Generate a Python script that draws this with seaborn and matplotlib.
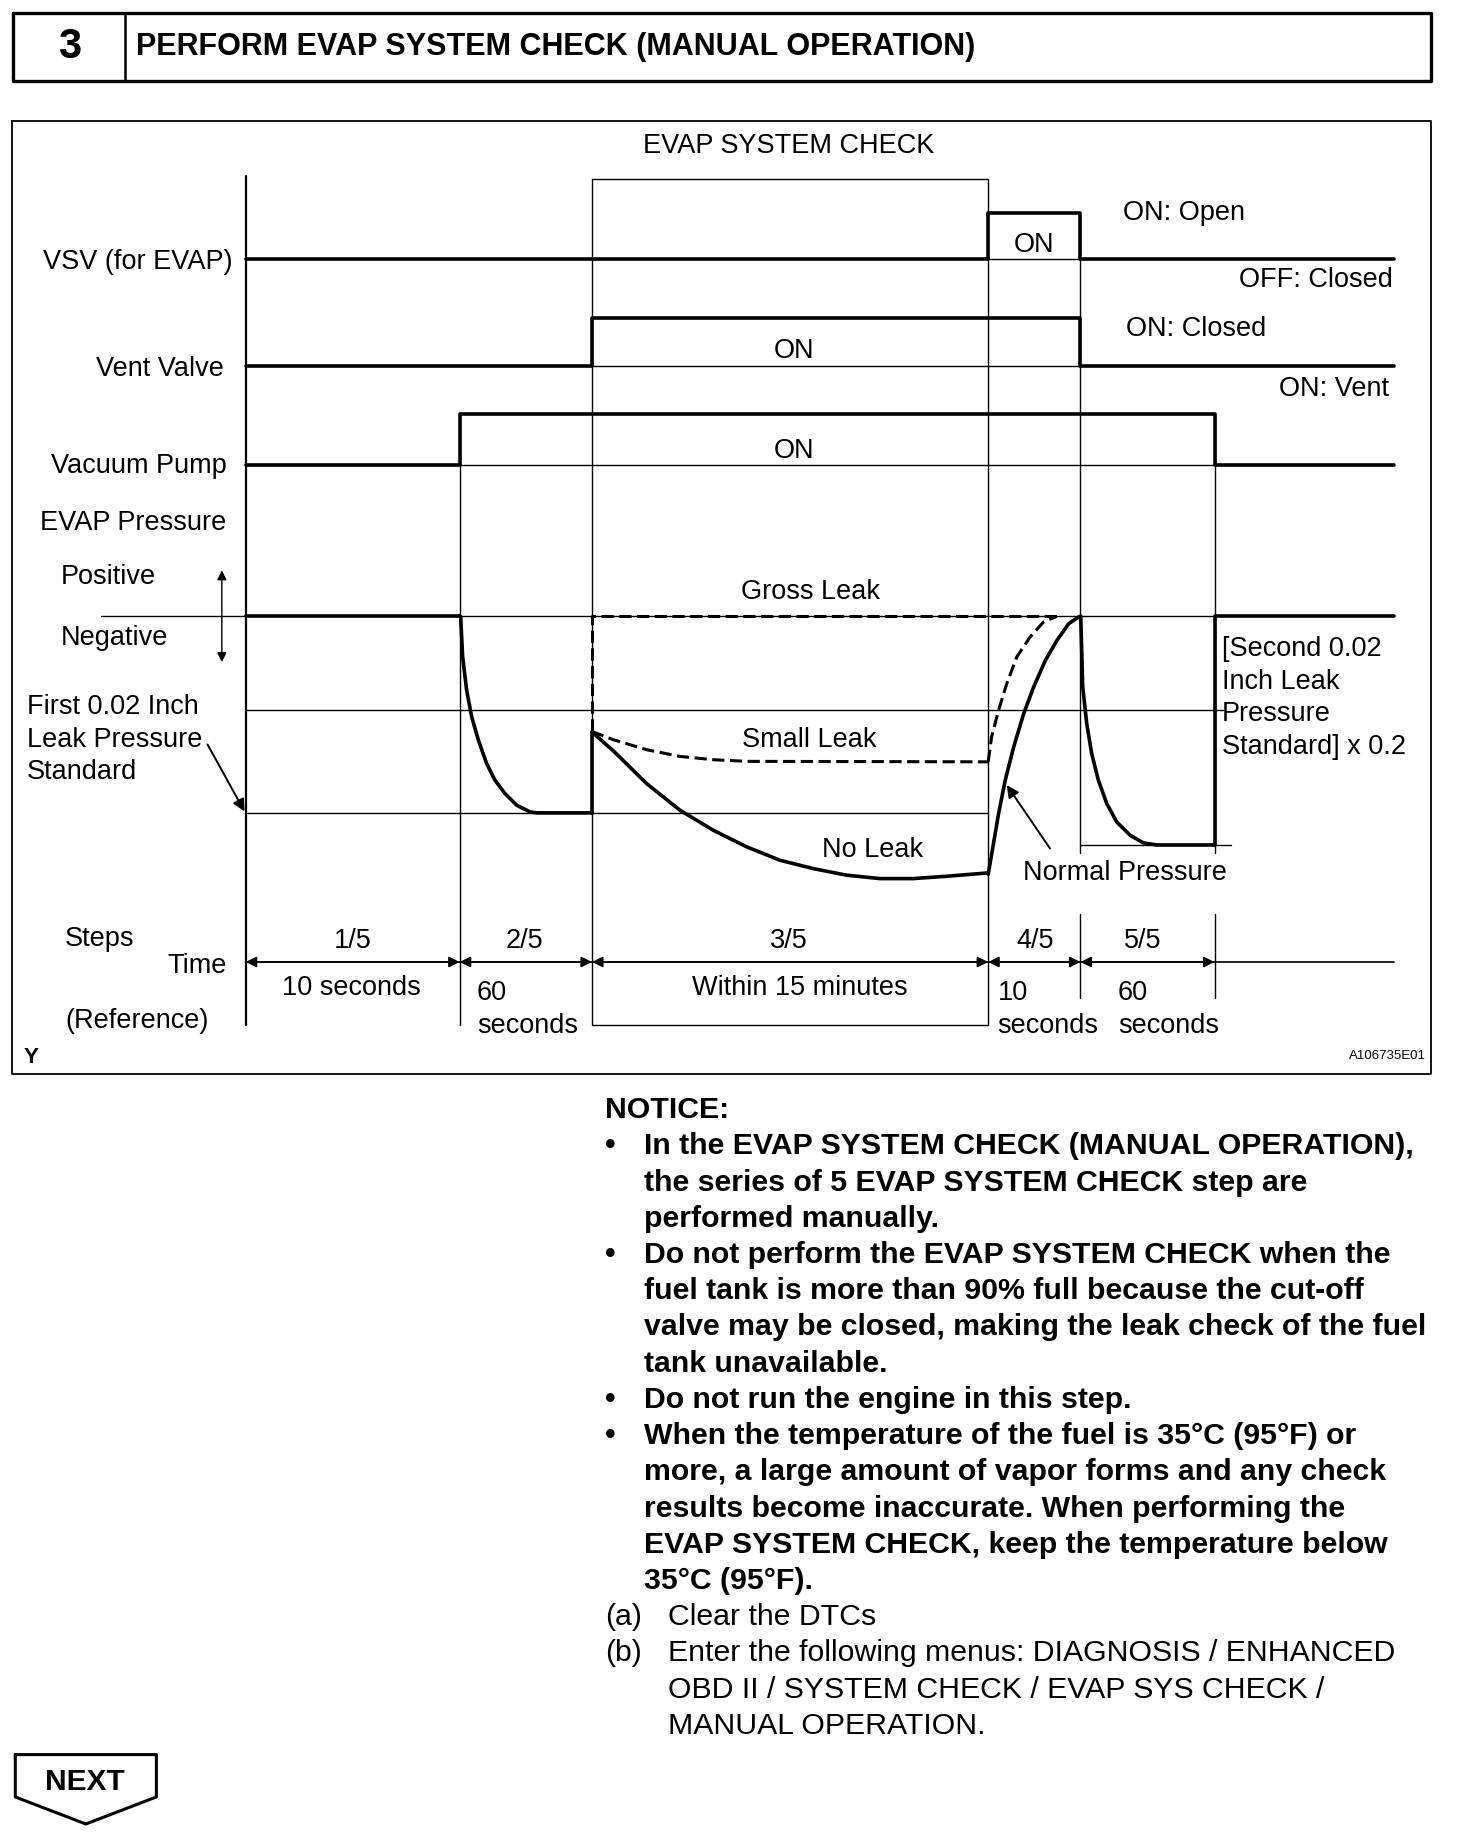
import numpy as np
import pandas as pd
import matplotlib
matplotlib.use("Agg")
import matplotlib.pyplot as plt
from matplotlib import font_manager
import seaborn as sns

# page coordinates (1252 x 1568 view)
PAGE_W, PAGE_H = 1252, 1568

# ---- timing diagram data ----
STEP_X = [209, 391, 503.5, 840.5, 919, 1033]       # step boundaries
STEP_LABELS = ["1/5", "2/5", "3/5", "4/5", "5/5"]
STEP_LABEL_X = [300, 446, 671, 880, 972]
RIGHT_END = 1186

# switch signals: (low level, high level)
VSV_LEVELS = (220, 181)
VENT_LEVELS = (311, 270)
PUMP_LEVELS = (395, 352)

# pressure levels
P_NORMAL = 524
P_STD = 604
P_FIRST = 691
P_SECOND = 718.5

# curves
decay1_x = [391, 391.8, 393.5, 396.9, 401.2, 406.9, 413.9, 421.0, 429.5, 439.5, 450.8, 456.5, 503.5]
decay1_y = [524, 524.5, 558.5, 586.9, 609.6, 629.4, 649.3, 663.4, 674.8, 684.7, 690.4, 691.2, 691.2]

noleak_x = [503.5, 521.7, 550.0, 578.4, 606.7, 635.1, 663.4, 691.8, 720.1, 748.5, 776.8, 805.2, 839.8]
noleak_y = [622.5, 638.5, 666.3, 689.0, 706.0, 720.1, 731.5, 738.6, 744.2, 747.1, 747.1, 745.1, 742.3]

rise_x = [840.5, 845.0, 849.3, 855.0, 862.2, 870.7, 879.2, 889.2, 899.1, 909.0, 917.5, 919.2]
rise_y = [743.5, 717.3, 692.0, 663.4, 635.1, 606.8, 584.1, 561.4, 544.4, 530.3, 524.6, 524.0]

small_x = [503.5, 521.7, 550.0, 578.4, 606.7, 635.0, 840.5]
small_y = [622.0, 629.0, 637.5, 643.2, 646.0, 647.4, 647.8]

small_rise_x = [840.5, 843.4, 849.3, 856.3, 864.8, 876.2, 887.5, 898.9]
small_rise_y = [647.8, 626.6, 604.0, 581.3, 558.6, 541.6, 528.9, 524.1]

decay2_x = [919.2, 920.9, 924.3, 928.5, 934.2, 941.3, 949.8, 961.2, 972.5, 983.8, 1033]
decay2_y = [524.0, 584.0, 615.2, 640.7, 663.4, 683.2, 698.9, 710.2, 716.7, 718.5, 718.5]

TITLE = "PERFORM EVAP SYSTEM CHECK (MANUAL OPERATION)"

NOTICE = [
    ["In the EVAP SYSTEM CHECK (MANUAL OPERATION),",
     "the series of 5 EVAP SYSTEM CHECK step are",
     "performed manually."],
    ["Do not perform the EVAP SYSTEM CHECK when the",
     "fuel tank is more than 90% full because the cut-off",
     "valve may be closed, making the leak check of the fuel",
     "tank unavailable."],
    ["Do not run the engine in this step."],
    ["When the temperature of the fuel is 35°C (95°F) or",
     "more, a large amount of vapor forms and any check",
     "results become inaccurate. When performing the",
     "EVAP SYSTEM CHECK, keep the temperature below",
     "35°C (95°F)."],
]
STEPS_AB = [
    ("(a)", ["Clear the DTCs"]),
    ("(b)", ["Enter the following menus: DIAGNOSIS / ENHANCED",
             "OBD II / SYSTEM CHECK / EVAP SYS CHECK /",
             "MANUAL OPERATION."]),
]

sns.set_theme(style="white")
plt.rcParams['font.family'] = ['Liberation Sans', 'DejaVu Sans']

try:
    font_manager.findfont('Liberation Sans Narrow', fallback_to_default=False)
    TITLE_FONT = ['Liberation Sans Narrow', 'Liberation Sans']
except Exception:
    TITLE_FONT = ['Liberation Sans', 'DejaVu Sans']

fig = plt.figure(figsize=(14.72, 18.44), dpi=100)
ax = fig.add_axes([0, 0, 1, 1])
ax.set_xlim(0, PAGE_W)
ax.set_ylim(PAGE_H, 0)
ax.axis('off')

K = 'black'
THICK, MID, THIN = 2.6, 1.6, 1.0
FS = 19.5
DY = 2.5


def line(xs, ys, lw=THIN, **kw):
    sns.lineplot(x=xs, y=ys, sort=False, estimator=None, ax=ax, color=K, lw=lw, **kw)


def txt(s, x, y, ha='center', fs=FS, dy=DY, **kw):
    return ax.text(x, y + dy, s, ha=ha, va='center', fontsize=fs, color=K, **kw)


# ---- header box ----
line([11, 1217, 1217, 11, 11], [11.3, 11.3, 69, 69, 11.3], lw=2.4)
line([106, 106], [11.3, 69], lw=1.8)
txt("3", 59, 40, fs=30, fontweight='bold', dy=0)
title = txt(TITLE, 116, 40, ha='left', fs=22, fontweight='bold', dy=0, family=TITLE_FONT)
# fit the title to the width it has in the reference (116 -> 830)
fig.canvas.draw()
bb = title.get_window_extent()
w = bb.width / fig.dpi / 14.72 * PAGE_W
title.set_fontsize(title.get_fontsize() * (830 - 116) / w)

# ---- diagram frame ----
line([10, 1217, 1217, 10, 10], [103, 103, 913, 913, 103], lw=1.3)
txt("EVAP SYSTEM CHECK", 670.5, 122)

x0, x1, x2, x3, x4, x5 = STEP_X
# verticals
line([x0, x0], [150, 872], lw=MID)
line([x1, x1], [PUMP_LEVELS[1], 872])
line([x2, x3, x3, x2, x2], [152, 152, 872, 872, 152])
line([x4, x4], [VSV_LEVELS[1], 725])
line([x5, x5], [PUMP_LEVELS[1], 725])
line([x4, x4], [777, 849])
line([x5, x5], [777, 849])

# VSV
line([x0, x3, x3, x4, x4, RIGHT_END],
     [VSV_LEVELS[0], VSV_LEVELS[0], VSV_LEVELS[1], VSV_LEVELS[1], VSV_LEVELS[0], VSV_LEVELS[0]], lw=THICK)
line([x3, x4], [VSV_LEVELS[0], VSV_LEVELS[0]])
# vent valve
line([x0, x2, x2, x4, x4, RIGHT_END],
     [VENT_LEVELS[0], VENT_LEVELS[0], VENT_LEVELS[1], VENT_LEVELS[1], VENT_LEVELS[0], VENT_LEVELS[0]], lw=THICK)
line([x2, x4], [VENT_LEVELS[0], VENT_LEVELS[0]])
# vacuum pump
line([x0, x1, x1, x5, x5, RIGHT_END],
     [PUMP_LEVELS[0], PUMP_LEVELS[0], PUMP_LEVELS[1], PUMP_LEVELS[1], PUMP_LEVELS[0], PUMP_LEVELS[0]], lw=THICK)
line([x1, x5], [PUMP_LEVELS[0], PUMP_LEVELS[0]])

# pressure reference lines
line([86, x5], [P_NORMAL, P_NORMAL])
line([x0, 1040], [P_STD, P_STD])
line([x0, x3], [P_FIRST, P_FIRST])
line([x4, 1047], [P_SECOND, P_SECOND])

# pressure curves
line([x0, x1], [P_NORMAL, P_NORMAL], lw=THICK)
line(decay1_x, decay1_y, lw=THICK)
line([x2, x2], [P_FIRST, noleak_y[0]], lw=THICK)
line(noleak_x, noleak_y, lw=THICK)
line(rise_x, rise_y, lw=THICK)
line(decay2_x, decay2_y, lw=THICK)
line([x5, x5, RIGHT_END], [P_SECOND, P_NORMAL, P_NORMAL], lw=THICK)
line([x2, x2, 902], [small_y[0], P_NORMAL, P_NORMAL], lw=2.2, dashes=(4, 1.8))
line(small_x, small_y, lw=2.2, dashes=(4, 1.8))
line(small_rise_x, small_rise_y, lw=2.2, dashes=(4, 1.8))

# arrows
ax.annotate("", xy=(188.7, 485), xytext=(188.7, 563),
            arrowprops=dict(arrowstyle='<|-|>', color=K, lw=1.0, mutation_scale=14, shrinkA=0, shrinkB=0))
ax.annotate("", xy=(208, 690), xytext=(176.5, 633),
            arrowprops=dict(arrowstyle='-|>', color=K, lw=1.4, mutation_scale=18, shrinkA=0, shrinkB=0))
ax.annotate("", xy=(856.3, 667.6), xytext=(893.1, 721.5),
            arrowprops=dict(arrowstyle='-|>', color=K, lw=1.4, mutation_scale=18, shrinkA=0, shrinkB=0))

# time axis
line([x0, RIGHT_END], [818, 818], lw=1.2)
for a, b in zip(STEP_X[:-1], STEP_X[1:]):
    ax.annotate("", xy=(a, 818), xytext=(b, 818),
                arrowprops=dict(arrowstyle='<|-|>', color=K, lw=1.2, mutation_scale=16, shrinkA=0, shrinkB=0))

# labels
txt("VSV (for EVAP)", 198, 220, ha='right')
txt("Vent Valve", 190, 311, ha='right')
txt("Vacuum Pump", 193, 394, ha='right')
txt("EVAP Pressure", 113, 442)
txt("Positive", 52, 488, ha='left')
txt("Negative", 52, 540, ha='left')
for s, y in zip(["First 0.02 Inch", "Leak Pressure", "Standard"], [599, 627, 654]):
    txt(s, 23, y, ha='left')
txt("ON", 879.5, 206)
txt("ON: Open", 955, 179, ha='left')
txt("OFF: Closed", 1185, 236, ha='right')
txt("ON", 675, 296)
txt("ON: Closed", 958, 277, ha='left')
txt("ON: Vent", 1181, 328, ha='right')
txt("ON", 675, 381)
txt("Gross Leak", 689.5, 501)
txt("Small Leak", 688, 627)
txt("No Leak", 742, 720)
txt("Normal Pressure", 957, 740)
for s, y in zip(["[Second 0.02", "Inch Leak", "Pressure", "Standard] x 0.2"], [549, 577, 605, 633]):
    txt(s, 1039, y, ha='left')
txt("Steps", 84.5, 796)
txt("Time", 193, 819, ha='right')
txt("(Reference)", 116.5, 866)
for s, x in zip(STEP_LABELS, STEP_LABEL_X):
    txt(s, x, 798)
txt("10 seconds", 299, 838)
txt("Within 15 minutes", 680, 838)
for x, n in [(405.5, "60"), (848.5, "10"), (951, "60")]:
    txt(n, x, 842, ha='left')
    txt("seconds", x, 870, ha='left')
txt("Y", 20, 899, ha='left', fs=16, fontweight='bold', dy=0)
txt("A106735E01", 1213, 898, ha='right', fs=9.5, dy=0)

# ---- notice ----
LS = 30.8
NFS = 21.8
y = 942
txt("NOTICE:", 515, y, ha='left', fs=NFS, fontweight='bold', dy=2)
for block in NOTICE:
    for i, s in enumerate(block):
        y += LS
        if i == 0:
            txt("•", 519, y, ha='center', fs=NFS, fontweight='bold', dy=2)
        txt(s, 548, y, ha='left', fs=NFS, fontweight='bold', dy=2)
for tag, lines in STEPS_AB:
    for i, s in enumerate(lines):
        y += LS
        if i == 0:
            txt(tag, 515, y, ha='left', fs=NFS, dy=2)
        txt(s, 568, y, ha='left', fs=NFS, dy=2)

# ---- NEXT button ----
line([13, 133, 133, 73, 13, 13], [1492, 1492, 1528, 1551, 1528, 1492], lw=2.2)
txt("NEXT", 72.5, 1515, fs=21.5, fontweight='bold', dy=0)

fig.savefig("out.png", dpi=100)
